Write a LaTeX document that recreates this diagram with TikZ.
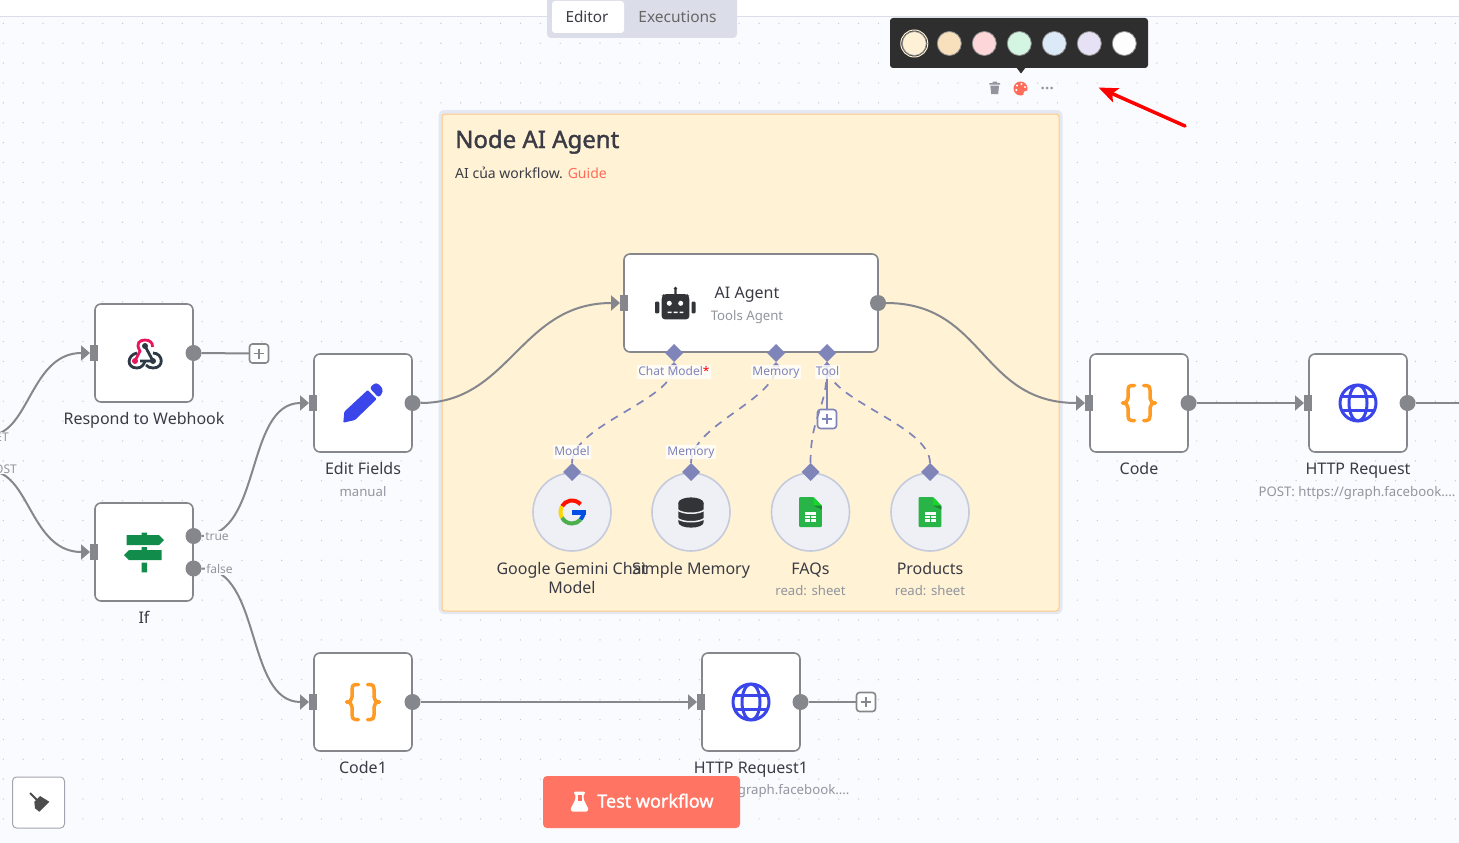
\documentclass[tikz,border=0pt]{standalone}
\usepackage{fontspec}
\setmainfont{Noto Sans}[AutoFakeBold=1.6]
\usetikzlibrary{arrows.meta,shapes.geometric}
\definecolor{canvascol}{HTML}{FAFBFE}
\definecolor{griddotcol}{HTML}{C4C9D3}
\definecolor{wirecol}{HTML}{85878D}
\definecolor{subcol}{HTML}{7F84B9}
\definecolor{inkcol}{HTML}{3A3B45}
\definecolor{mutedcol}{HTML}{92959E}
\definecolor{coralcol}{HTML}{FF6D5A}
\definecolor{bluecol}{HTML}{3A46EA}
\definecolor{orangecol}{HTML}{FF9A24}
\definecolor{sheetcol}{HTML}{28B446}
\definecolor{stickycol}{HTML}{FFF2D5}
\definecolor{discfill}{HTML}{EEF0F6}
\definecolor{discline}{HTML}{C6CBDC}
\definecolor{framecol}{HTML}{E4E8F2}
\definecolor{tabcol}{HTML}{DBDEE8}
\definecolor{signcol}{HTML}{128C4B}
\definecolor{hookpink}{HTML}{E8175D}
\definecolor{hookdark}{HTML}{2D3A45}
\definecolor{iconcol}{HTML}{333438}
\tikzset{
  griddot/.style={fill=griddotcol},
  wfnode/.style={draw=wirecol,fill=white,line width=1.6pt,rounded corners=6pt,minimum size=98pt,inner sep=0pt,outer sep=0pt},
  inport/.style={fill=wirecol,minimum width=8pt,minimum height=16pt,inner sep=0pt,outer sep=0pt},
  outport/.style={circle,fill=wirecol,minimum size=16pt,inner sep=0pt,outer sep=0pt},
  plusbox/.style={draw=#1,fill=white,line width=1.6pt,rounded corners=3pt,minimum size=19pt,inner sep=0pt,outer sep=0pt,
    path picture={\draw[#1,line width=1.6pt] (path picture bounding box.center) +(-5,0) -- +(5,0) +(0,-5) -- +(0,5);}},
  wire/.style={draw=wirecol,line width=2pt},
  wirearrow/.style={wire,-{Triangle[length=9pt,width=15pt]}},
  subwire/.style={draw=subcol,line width=1.7pt,dash pattern=on 8pt off 7pt,-{Triangle[length=4.5pt,width=8pt]}},
  slot/.style={diamond,fill=subcol,minimum size=18pt,inner sep=0pt,outer sep=0pt},
  subnode/.style={circle,draw=discline,fill=discfill,line width=1.6pt,minimum size=78pt,inner sep=0pt},
  title/.style={text=inkcol,anchor=base,inner sep=0pt,font=\fontsize{16}{19}\selectfont},
  subtitle/.style={text=mutedcol,anchor=base,inner sep=0pt,font=\fontsize{13.2}{15}\selectfont},
  sublabel/.style={text=subcol,fill=white,fill opacity=.8,text opacity=1,inner sep=1pt,text height=9pt,text depth=2.5pt,font=\fontsize{12}{14}\selectfont},
  portlabel/.style={text=mutedcol,fill=canvascol,inner sep=1pt,font=\fontsize{12}{14}\selectfont},
  swatch/.style={circle,draw=black!45,line width=.8pt,minimum size=24pt,inner sep=0pt},
  pics/globe/.style={code={
    \draw[bluecol,line width=3pt] (0,0) circle (18pt) (0,0) ellipse (9pt and 18pt);
    \draw[bluecol,line width=3pt] (-16,-7) -- (16,-7) (-16,7) -- (16,7);
  }},
  pics/braces/.style={code={
    \foreach \s in {-1,1}
    \draw[orangecol,line width=3.5pt,line cap=round,line join=round]
      (\s*4.5,-17.5) -- (\s*7.5,-17.5) .. controls (\s*10,-17.5) and (\s*11,-16) .. (\s*11,-13) -- (\s*11,-5)
      .. controls (\s*11,-2) and (\s*13,0) .. (\s*16.5,0) .. controls (\s*13,0) and (\s*11,2) .. (\s*11,5) -- (\s*11,13)
      .. controls (\s*11,16) and (\s*10,17.5) .. (\s*7.5,17.5) -- (\s*4.5,17.5);
  }},
  pics/sheet/.style={code={
    \fill[sheetcol,rounded corners=1pt] (-11.3,-15) -- (3,-15) -- (11.3,-6.3) -- (11.3,15) -- (-11.3,15) -- cycle;
    \fill[green!45!sheetcol] (3,-15) -- (11.3,-6.3) -- (3,-6.3) -- cycle;
    \fill[black!25!sheetcol] (3,-6.3) -- (11.3,-6.3) -- (11.3,-2.5) -- cycle;
    \fill[white] (-5.5,0) rectangle (5.5,9.7);
    \draw[sheetcol,line width=.7pt] (-5.5,3.2) -- (5.5,3.2) (-5.5,6.5) -- (5.5,6.5) (0,3.2) -- (0,9.7);
  }}
}
\begin{document}
\begin{tikzpicture}[x=1pt,y=-1pt]
\useasboundingbox (0,0) rectangle (1459,843);
\clip (0,0) rectangle (1459,843);
% Canvas and its dots
\fill[canvascol] (0,0) rectangle (1459,843);
\fill[white] (0,0) rectangle (1459,16);
\draw[tabcol,line width=1pt] (0,16.5) -- (1459,16.5);
\foreach \i in {0,...,73}
\foreach \j in {0,...,40}
{
\fill[griddot] ({3.3+19.89*\i},{23.3+19.89*\j}) circle (.7pt);
}
% Sticky note
\node[fill=framecol,rounded corners=6pt,minimum width=624pt,minimum height=504pt,inner sep=0pt] (stickyframe) at (750.5,362) {};
\node[draw=orange!35!stickycol,fill=stickycol,line width=1pt,rounded corners=3pt,minimum width=617pt,minimum height=497pt,inner sep=0pt] (sticky) at (750.5,362.5) {};
\node[text=inkcol,anchor=base west,inner sep=0pt,font=\fontsize{24}{28}\selectfont\bfseries] (stickytitle) at (455,148) {Node AI Agent};
\node[text=inkcol,anchor=base west,inner sep=0pt,font=\fontsize{14}{17}\selectfont] (stickytext) at (455,178) {AI của workflow. \textcolor{coralcol}{Guide}};
% Workflow nodes with their ports
\foreach \nm/\x/\y/\txt in {respond/144/353/Respond to Webhook,edit/363/403/Edit Fields,code1/363/702/Code1,http1/751/702/HTTP Request1,code/1139/403/Code,http/1358/403/HTTP Request}
{
\node[wfnode] (\nm) at (\x,\y) {};
\node[inport] (\nm-in) at (\x-50,\y) {};
\node[outport] (\nm-out) at (\x+49.5,\y) {};
\node[title] (\nm-name) at (\x,\y+71) {\txt};
}
\node[wfnode] (ifnode) at (144,552) {};
\node[inport] (ifnode-in) at (94,552) {};
\node[outport] (ifnode-true) at (193.5,536) {};
\node[outport] (ifnode-false) at (193.5,568.5) {};
\node[title] (ifnode-name) at (144,623) {If};
\node[wfnode,minimum width=254pt] (agent) at (751,303) {};
\node[inport] (agent-in) at (624,303) {};
\node[outport] (agent-out) at (878,303) {};
\node[title] (agent-name) at (747,298) {AI Agent};
\node[subtitle] (agent-kind) at (747,320) {Tools Agent};
% Slots of the agent and the nodes under it
\foreach \nm/\x in {chat/674,memslot/776,tool/827}
{
\node[slot] (\nm) at (\x,353) {};
}
\foreach \nm/\x in {gemini/572,memory/691,faqs/810.5,products/930}
{
\node[subnode] (\nm) at (\x,512) {};
\node[slot] (\nm-top) at (\x,472) {};
}
\node[plusbox=subcol] (toolplus) at (827,419) {};
\node[plusbox=wirecol] (respondplus) at (259,353.5) {};
\node[plusbox=wirecol] (http1plus) at (866,702) {};
\coordinate (getend) at (0,433);
\coordinate (postend) at (0,473);
\coordinate (httpend) at (1459,403);
% Connectors
\draw[wirearrow] (getend) .. controls (30,420) and (35,353) .. (respond-in.west);
\draw[wirearrow] (postend) .. controls (30,485) and (35,552) .. (ifnode-in.west);
\draw[wire] (respond-out.east) -- (respondplus.west);
\draw[wirearrow] (ifnode-true.east) .. controls (262,536) and (245,403) .. (edit-in.west);
\draw[wirearrow] (ifnode-false.east) .. controls (262,568) and (245,702) .. (code1-in.west);
\draw[wirearrow] (edit-out.east) .. controls (510,403) and (520,303) .. (agent-in.west);
\draw[wirearrow] (agent-out.east) .. controls (985,303) and (980,403) .. (code-in.west);
\draw[wirearrow] (code-out.east) -- (http-in.west);
\draw[wire] (http-out.east) -- (httpend);
\draw[wirearrow] (code1-out.east) -- (http1-in.west);
\draw[wire] (http1-out.east) -- (http1plus.west);
\draw[subwire] (gemini-top.north) .. controls (572,425) and (674,400) .. (chat.south);
\draw[subwire] (memory-top.north) .. controls (691,425) and (776,400) .. (memslot.south);
\draw[subwire] (faqs-top.north) .. controls (810.5,415) and (827,410) .. (tool.south);
\draw[subwire] (products-top.north) .. controls (930,425) and (827,400) .. (tool.south);
\draw[draw=subcol,line width=1.7pt] (tool.south) -- (toolplus.north);
% Labels on the connectors
\node[sublabel] (chat-label) at (674,372) {Chat Model\textcolor{red}{*}};
\node[sublabel] (memslot-label) at (776,372) {Memory};
\node[sublabel] (tool-label) at (827.5,372) {Tool};
\node[sublabel] (gemini-label) at (572,452) {Model};
\node[sublabel] (memory-label) at (691,452) {Memory};
\node[portlabel] (true-label) at (217,536.5) {true};
\node[portlabel] (false-label) at (219.5,569) {false};
\node[portlabel,anchor=east] (get-label) at (10,437) {ET};
\node[portlabel,anchor=east] (post-label) at (18,469) {OST};
% Texts under the nodes
\node[title,align=center,anchor=center] (gemini-name) at (572,578) {Google Gemini Chat\\Model};
\node[title] (memory-name) at (691,574) {Simple Memory};
\node[title] (faqs-name) at (810.5,574) {FAQs};
\node[title] (products-name) at (930,574) {Products};
\node[subtitle] (faqs-kind) at (810.5,595) {read: sheet};
\node[subtitle] (products-kind) at (930,595) {read: sheet};
\node[subtitle] (edit-kind) at (363,496) {manual};
\node[subtitle] (http-kind) at (1357,496) {POST: https://graph.facebook....};
\node[subtitle] (http1-kind) at (751,794) {POST: https://graph.facebook....};
% Icons
\draw[hookdark,line width=2.8pt] (145,346) -- (153,361) -- (140,361);
\draw[hookdark,line width=2.8pt] (137,353) .. controls (127,355) and (126,368) .. (137,368) .. controls (141,368) and (144,365) .. (145,361);
\draw[hookdark,line width=2.8pt] (153,353) .. controls (163,353) and (165,368) .. (153,368) .. controls (150,368) and (148,367) .. (146,365);
\fill[hookdark] (145,346) circle (3pt) (153,361) circle (3pt);
\draw[hookpink,line width=2.8pt] (135,361) -- (140,351) .. controls (135,343) and (140,340) .. (145,340) .. controls (150,340) and (153,343) .. (152.5,347);
\fill[hookpink] (135,361) circle (3pt);
\fill[bluecol,rounded corners=1pt] (343.3,422.7) -- (344.3,411.7) -- (367.7,390) -- (376.7,399) -- (355,420) -- cycle;
\fill[bluecol,rounded corners=2.5pt] (369.7,388) -- (374,383.5) -- (378,383.3) -- (383,389) -- (382,394) -- (378.5,397.5) -- cycle;
\fill[signcol] (126.7,535) -- (159,535) -- (164,540) -- (159,545) -- (126.7,545) -- cycle;
\fill[signcol] (161.7,550) -- (129,550) -- (124,555) -- (129,560) -- (161.7,560) -- cycle;
\fill[signcol] (141.7,532.7) rectangle (147,535) (141.7,547) rectangle (147,550) (141.7,562.7) rectangle (147,572.3);
\pic at (363,702) {braces};
\pic at (1139,403) {braces};
\pic at (1358,403) {globe};
\pic at (751,702) {globe};
\pic at (810.5,512) {sheet};
\pic at (930,512) {sheet};
% Robot
\fill[iconcol] (664,294) [rounded corners=3pt] -- (687,294) -- (689.3,296) -- (689.3,319.3) -- (661.7,319.3) -- (661.7,296) -- cycle;
\fill[iconcol,rounded corners=1pt] (655,301.7) rectangle (659.3,313.3) (691.5,301.7) rectangle (695.5,313.3);
\fill[iconcol] (674.3,288) rectangle (676.7,295) (675.5,288.5) circle (1.8pt);
\fill[white] (669.3,303.3) circle (2.5pt) (680.7,303.3) circle (2.5pt);
\fill[white] (667.7,311.5) rectangle (671.5,313) (673.5,311.5) rectangle (677.5,313) (679.5,311.5) rectangle (683.3,313);
% Google mark
\draw[red!85!orange,line width=4pt] (572,512) ++(-42:11.5) arc (-42:-150:11.5);
\draw[yellow!75!orange,line width=4pt] (572,512) ++(-150:11.5) arc (-150:-210:11.5);
\draw[green!55!black!70!white,line width=4pt] (572,512) ++(150:11.5) arc (150:40:11.5);
\draw[blue!65!cyan!90!black,line width=4pt] (572,512) ++(40:11.5) arc (40:0:11.5);
\fill[blue!65!cyan!90!black] (572,510) rectangle (585.5,514.5);
% Database
\fill[iconcol] (678.3,503) -- (678.3,522) .. controls (678.3,529.5) and (703.7,529.5) .. (703.7,522) -- (703.7,503) -- cycle;
\fill[iconcol] (691,503) ellipse (12.7pt and 5.6pt);
\foreach \y in {509.5,518}
{
\draw[discfill,line width=1.5pt] (677,\y) .. controls (682,\y+5) and (700,\y+5) .. (705,\y);
}
% Tabs on top
\node[fill=tabcol,rounded corners=4pt,minimum width=190pt,minimum height=50pt,inner sep=0pt] (tabbar) at (642,13) {};
\node[fill=white,rounded corners=3pt,minimum width=72pt,minimum height=32pt,inner sep=0pt] (editortab) at (588,17) {};
\node[text=inkcol,inner sep=0pt,font=\fontsize{15.3}{17}\selectfont] (editorname) at (587,17) {Editor};
\node[text=black!60,inner sep=0pt,font=\fontsize{15.5}{17}\selectfont] (execname) at (677.5,17) {Executions};
% Colour picker
\node[fill=black!82,rounded corners=3pt,minimum width=258pt,minimum height=50pt,inner sep=0pt] (picker) at (1019,43) {};
\fill[black!82] (1016,67) -- (1026,67) -- (1021,73.5) -- cycle;
\foreach \nm/\x/\col in {a/914.3/FFF1D6,b/949.3/F7E0BB,c/984.3/FDD6DA,d/1019.3/D3F5E2,e/1054.3/DCEAF8,f/1089.3/E6E1F4,g/1124.3/FDFDFE}
{
\definecolor{swatchcol}{HTML}{\col}
\node[swatch,fill=swatchcol] (swatch\nm) at (\x,43.5) {};
}
\draw[stickycol,line width=1pt] (914.3,43.5) circle (13.5pt);
% Icons under the picker
\fill[mutedcol] (989.3,83) rectangle (1000,84.6) (992.5,81.7) rectangle (996.8,83);
\fill[mutedcol] (990.3,85.5) -- (999,85.5) -- (998.2,94) -- (991.2,94) -- cycle;
\fill[coralcol] (1020.5,88.5) circle (7pt);
\fill[canvascol] (1026.3,93.8) circle (3pt);
\fill[white] (1016.3,90) circle (1.2pt) (1017,85.5) circle (1.2pt) (1021.5,84) circle (1.2pt) (1025,87) circle (1.2pt);
\fill[mutedcol] (1042.5,88) circle (1.5pt) (1047,88) circle (1.5pt) (1051.5,88) circle (1.5pt);
% Red arrow
\coordinate (arrowtail) at (1185,126);
\coordinate (arrowtip) at (1098.5,87.5);
\draw[red,line width=3.5pt,line cap=round,-{Stealth[length=19pt,width=15pt,inset=4pt]}] (arrowtail) -- (arrowtip);
% Buttons
\node[fill=coralcol!95!white,rounded corners=4pt,minimum width=197pt,minimum height=52pt,inner sep=0pt] (testbutton) at (641.5,802) {};
\node[text=white,anchor=base west,inner sep=0pt,font=\fontsize{18}{20}\selectfont\bfseries] (testname) at (597,807.5) {Test workflow};
\fill[white,rounded corners=1pt] (574,791.7) -- (585,791.7) -- (585,794) -- (583.7,794) -- (583.7,799.5) -- (588.5,809) -- (587,811.7) -- (572,811.7) -- (570.5,809) -- (575.3,799.5) -- (575.3,794) -- (574,794) -- cycle;
\fill[coralcol] (577.5,794.5) rectangle (581.5,800.5);
\node[draw=mutedcol!85!white,fill=white,line width=1pt,rounded corners=4pt,minimum width=52pt,minimum height=51pt,inner sep=0pt] (tidybutton) at (38.5,802.5) {};
\draw[black!70,line width=1.8pt] (30,793) -- (37,800);
\fill[black!70] (34.3,801.7) -- (40,796) -- (49.3,801.7) -- (39.3,811.7) -- (35,808.3) -- cycle;
\end{tikzpicture}
\end{document}
